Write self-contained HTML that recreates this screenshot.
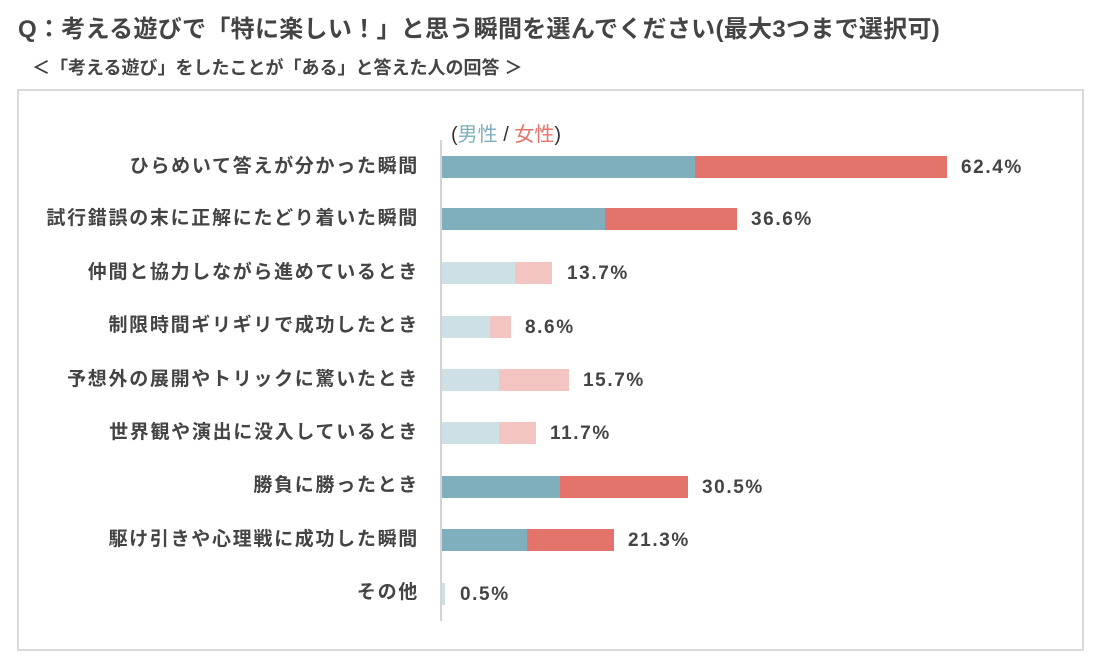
<!DOCTYPE html>
<html><head><meta charset="utf-8"><style>
*{margin:0;padding:0;box-sizing:border-box}
body{width:1099px;height:669px;background:#fff;position:relative;overflow:hidden;font-family:"Liberation Sans","Noto Sans CJK JP",sans-serif;color:#444;font-weight:bold}
.abs{position:absolute;white-space:nowrap}
.box{position:absolute;left:17px;top:89px;width:1067px;height:562px;border:2px solid #d9d9d9}
.axis{position:absolute;left:440px;top:140px;width:2px;height:481px;background:#d4d4d4}
.lab{position:absolute;right:680px;font-size:19px;letter-spacing:1.7px;line-height:22px}
.bar{position:absolute;height:22px}
.val{position:absolute;font-size:19px;letter-spacing:1.6px;line-height:22px}
</style></head><body>
<div class="abs" style="left:18px;top:14px;font-size:24px;letter-spacing:0.3px;line-height:32px">Q：考える遊びで「特に楽しい！」と思う瞬間を選んでください(最大3つまで選択可)</div>
<div class="abs" style="left:32px;top:56px;font-size:18px;line-height:24px">＜「考える遊び」をしたことが「ある」と答えた人の回答 ＞</div>
<div class="box"></div>
<div class="axis"></div>
<div class="abs" style="left:451px;top:123px;font-size:20px;font-weight:normal;line-height:24px;color:#333">(<span style="color:#7fafbc">男性</span> / <span style="color:#e3736b">女性</span>)</div>

<div class="lab" style="top:156px">ひらめいて答えが分かった瞬間</div>
<div class="bar" style="top:156px;left:442px;width:253px;background:#7fafbc"></div>
<div class="bar" style="top:156px;left:695px;width:252px;background:#e3736b"></div>
<div class="val" style="top:157px;left:961px">62.4%</div>

<div class="lab" style="top:208px">試行錯誤の末に正解にたどり着いた瞬間</div>
<div class="bar" style="top:208px;left:442px;width:163px;background:#7fafbc"></div>
<div class="bar" style="top:208px;left:605px;width:132px;background:#e3736b"></div>
<div class="val" style="top:209px;left:751px">36.6%</div>

<div class="lab" style="top:262px">仲間と協力しながら進めているとき</div>
<div class="bar" style="top:262px;left:442px;width:73px;background:#cde0e6"></div>
<div class="bar" style="top:262px;left:515px;width:37px;background:#f2c5c2"></div>
<div class="val" style="top:263px;left:567px">13.7%</div>

<div class="lab" style="top:315px">制限時間ギリギリで成功したとき</div>
<div class="bar" style="top:316px;left:442px;width:48px;background:#cde0e6"></div>
<div class="bar" style="top:316px;left:490px;width:21px;background:#f2c5c2"></div>
<div class="val" style="top:317px;left:525px">8.6%</div>

<div class="lab" style="top:369px">予想外の展開やトリックに驚いたとき</div>
<div class="bar" style="top:369px;left:442px;width:57px;background:#cde0e6"></div>
<div class="bar" style="top:369px;left:499px;width:70px;background:#f2c5c2"></div>
<div class="val" style="top:370px;left:583px">15.7%</div>

<div class="lab" style="top:422px">世界観や演出に没入しているとき</div>
<div class="bar" style="top:422px;left:442px;width:57px;background:#cde0e6"></div>
<div class="bar" style="top:422px;left:499px;width:37px;background:#f2c5c2"></div>
<div class="val" style="top:423px;left:550px">11.7%</div>

<div class="lab" style="top:475px">勝負に勝ったとき</div>
<div class="bar" style="top:476px;left:442px;width:118px;background:#7fafbc"></div>
<div class="bar" style="top:476px;left:560px;width:128px;background:#e3736b"></div>
<div class="val" style="top:477px;left:702px">30.5%</div>

<div class="lab" style="top:529px">駆け引きや心理戦に成功した瞬間</div>
<div class="bar" style="top:529px;left:442px;width:85px;background:#7fafbc"></div>
<div class="bar" style="top:529px;left:527px;width:87px;background:#e3736b"></div>
<div class="val" style="top:530px;left:628px">21.3%</div>

<div class="lab" style="top:582px">その他</div>
<div class="bar" style="top:583px;left:442px;width:3px;background:#cde0e6"></div>
<div class="val" style="top:584px;left:460px">0.5%</div>
</body></html>
